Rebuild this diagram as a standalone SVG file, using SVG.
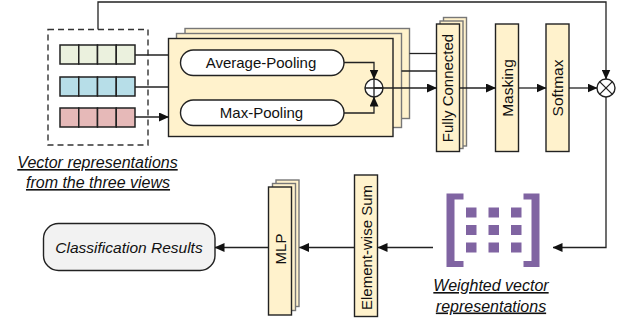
<svg xmlns="http://www.w3.org/2000/svg" width="628" height="326" viewBox="0 0 628 326">
<defs>
<marker id="ah" markerWidth="10" markerHeight="9" refX="9.5" refY="4.5" orient="auto" markerUnits="userSpaceOnUse">
<path d="M0,0 L10,4.5 L0,9 Z" fill="#111"/>
</marker>
<style>
.t{font-family:"Liberation Sans",Arial,sans-serif;font-size:15px;fill:#111;}
.it{font-style:italic;}
.ul{text-decoration:underline;}
.y{fill:#FFF2CC;stroke:#222;stroke-width:1.4;}
.yb{fill:#FFF2CC;stroke:#777;stroke-width:1.4;}
.c{fill:none;stroke:#222;stroke-width:1.3;}
.cell{stroke:#222;stroke-width:1.5;}
.pur{fill:#8064A2;}
</style>
</defs>
<rect width="628" height="326" fill="#fff"/>

<g id="vectors">
<rect x="48" y="29.5" width="100" height="115.5" fill="none" stroke="#333" stroke-width="1.4" stroke-dasharray="6,4"/>
<g fill="#EBF1DE">
<rect class="cell" x="60" y="45" width="18.75" height="19"/><rect class="cell" x="78.75" y="45" width="18.75" height="19"/><rect class="cell" x="97.5" y="45" width="18.75" height="19"/><rect class="cell" x="116.25" y="45" width="18.75" height="19"/>
</g>
<g fill="#B7DEE8">
<rect class="cell" x="60" y="77" width="18.75" height="19"/><rect class="cell" x="78.75" y="77" width="18.75" height="19"/><rect class="cell" x="97.5" y="77" width="18.75" height="19"/><rect class="cell" x="116.25" y="77" width="18.75" height="19"/>
</g>
<g fill="#E6B9B8">
<rect class="cell" x="60" y="108" width="18.75" height="19"/><rect class="cell" x="78.75" y="108" width="18.75" height="19"/><rect class="cell" x="97.5" y="108" width="18.75" height="19"/><rect class="cell" x="116.25" y="108" width="18.75" height="19"/>
</g>
<text class="t it ul" x="97.5" y="168" text-anchor="middle" style="font-size:16px">Vector representations</text>
<text class="t it ul" x="98" y="188" text-anchor="middle" style="font-size:16px">from the three views</text>
</g>

<g id="pooling">
<rect class="yb" x="185" y="28.5" width="224.5" height="90"/>
<rect class="yb" x="176.5" y="33.5" width="225" height="94"/>
<rect class="y" x="168.5" y="38.5" width="224.5" height="98"/>
<rect x="180.5" y="50" width="163.5" height="25.5" rx="12.75" fill="#fff" stroke="#222" stroke-width="1.4"/>
<text class="t" x="261" y="68" text-anchor="middle">Average-Pooling</text>
<rect x="180.5" y="100" width="163.5" height="25.5" rx="12.75" fill="#fff" stroke="#222" stroke-width="1.4"/>
<text class="t" x="261.5" y="118" text-anchor="middle">Max-Pooling</text>
</g>

<g id="oplus">
<circle cx="374" cy="88" r="9" fill="#fff" stroke="#222" stroke-width="1.4"/>
<path d="M365,88 H383 M374,79 V97" stroke="#222" stroke-width="1.3"/>
</g>

<g id="fc">
<rect class="yb" x="443.5" y="17.5" width="23" height="128.5"/>
<rect class="yb" x="440" y="21" width="23" height="127.5"/>
<rect class="y" x="436.5" y="24" width="23" height="127.5"/>
<text class="t" transform="translate(453,88) rotate(-90)" text-anchor="middle">Fully Connected</text>
</g>

<g id="masking">
<rect class="y" x="495.5" y="24" width="23" height="127.5"/>
<text class="t" transform="translate(512.5,88) rotate(-90)" text-anchor="middle" style="font-size:15.5px">Masking</text>
</g>

<g id="softmax">
<rect class="y" x="546" y="24" width="23" height="127.5"/>
<text class="t" transform="translate(563,88) rotate(-90)" text-anchor="middle" style="font-size:15.5px">Softmax</text>
</g>

<g id="otimes">
<circle cx="606" cy="88" r="9" fill="#fff" stroke="#222" stroke-width="1.4"/>
<path d="M599.6,81.6 L612.4,94.4 M612.4,81.6 L599.6,94.4" stroke="#222" stroke-width="1.3"/>
</g>

<g id="weighted">
<path class="pur" d="M446.5,193.5 H463.5 V199.5 H454.5 V261 H463.5 V267 H446.5 Z"/>
<path class="pur" d="M539.5,193.5 H523.5 V199.5 H531.5 V261 H523.5 V267 H539.5 Z"/>
<g class="pur">
<rect x="466" y="207.5" width="10.5" height="10"/><rect x="488.5" y="207.5" width="10.5" height="10"/><rect x="511" y="207.5" width="10.5" height="10"/>
<rect x="466" y="225" width="10.5" height="10"/><rect x="488.5" y="225" width="10.5" height="10"/><rect x="511" y="225" width="10.5" height="10"/>
<rect x="466" y="242.5" width="10.5" height="10"/><rect x="488.5" y="242.5" width="10.5" height="10"/><rect x="511" y="242.5" width="10.5" height="10"/>
</g>
<text class="t it ul" x="491" y="291" text-anchor="middle" style="font-size:16px">Weighted vector</text>
<text class="t it ul" x="491" y="311.5" text-anchor="middle" style="font-size:16px">representations</text>
</g>

<g id="elementwise">
<rect class="y" x="354.5" y="175" width="23" height="141.5"/>
<text class="t" transform="translate(371.5,247.5) rotate(-90)" text-anchor="middle">Element-wise Sum</text>
</g>

<g id="mlp">
<rect class="yb" x="276" y="180" width="23" height="126.5"/>
<rect class="yb" x="272.5" y="183.5" width="23" height="127"/>
<rect class="y" x="268.5" y="187" width="23" height="128"/>
<text class="t" transform="translate(285.5,249) rotate(-90)" text-anchor="middle">MLP</text>
</g>

<g id="classification">
<rect x="43.5" y="223.5" width="171.5" height="47" rx="15" fill="#F2F2F2" stroke="#222" stroke-width="1.4"/>
<text class="t it" x="129" y="253" text-anchor="middle" style="font-size:15.5px">Classification Results</text>
</g>

<g id="connectors">
<path class="c" d="M98,29.5 V2 H606 V79" marker-end="url(#ah)"/>
<path class="c" d="M135,55 H168.5"/>
<path class="c" d="M135,87 H168.5"/>
<path class="c" d="M135,117 H168.5" marker-end="url(#ah)"/>
<path class="c" d="M344,62.5 H374 V79" marker-end="url(#ah)"/>
<path class="c" d="M344,113 H374 V97" marker-end="url(#ah)"/>
<path class="c" d="M374,88 H436.5" marker-end="url(#ah)"/>
<path class="c" d="M409.5,53.5 H436.5"/>
<path class="c" d="M401.5,71 H436.5"/>
<path class="c" d="M459.5,88 H495.5" marker-end="url(#ah)"/>
<path class="c" d="M518.5,88 H546" marker-end="url(#ah)"/>
<path class="c" d="M569,88 H597" marker-end="url(#ah)"/>
<path class="c" d="M606,97 V247.5 H553" marker-end="url(#ah)"/>
<path class="c" d="M433,247.5 H378" marker-end="url(#ah)"/>
<path class="c" d="M354,247.5 H299.5" marker-end="url(#ah)"/>
<path class="c" d="M268,247.5 H215" marker-end="url(#ah)"/>
</g>
</svg>
